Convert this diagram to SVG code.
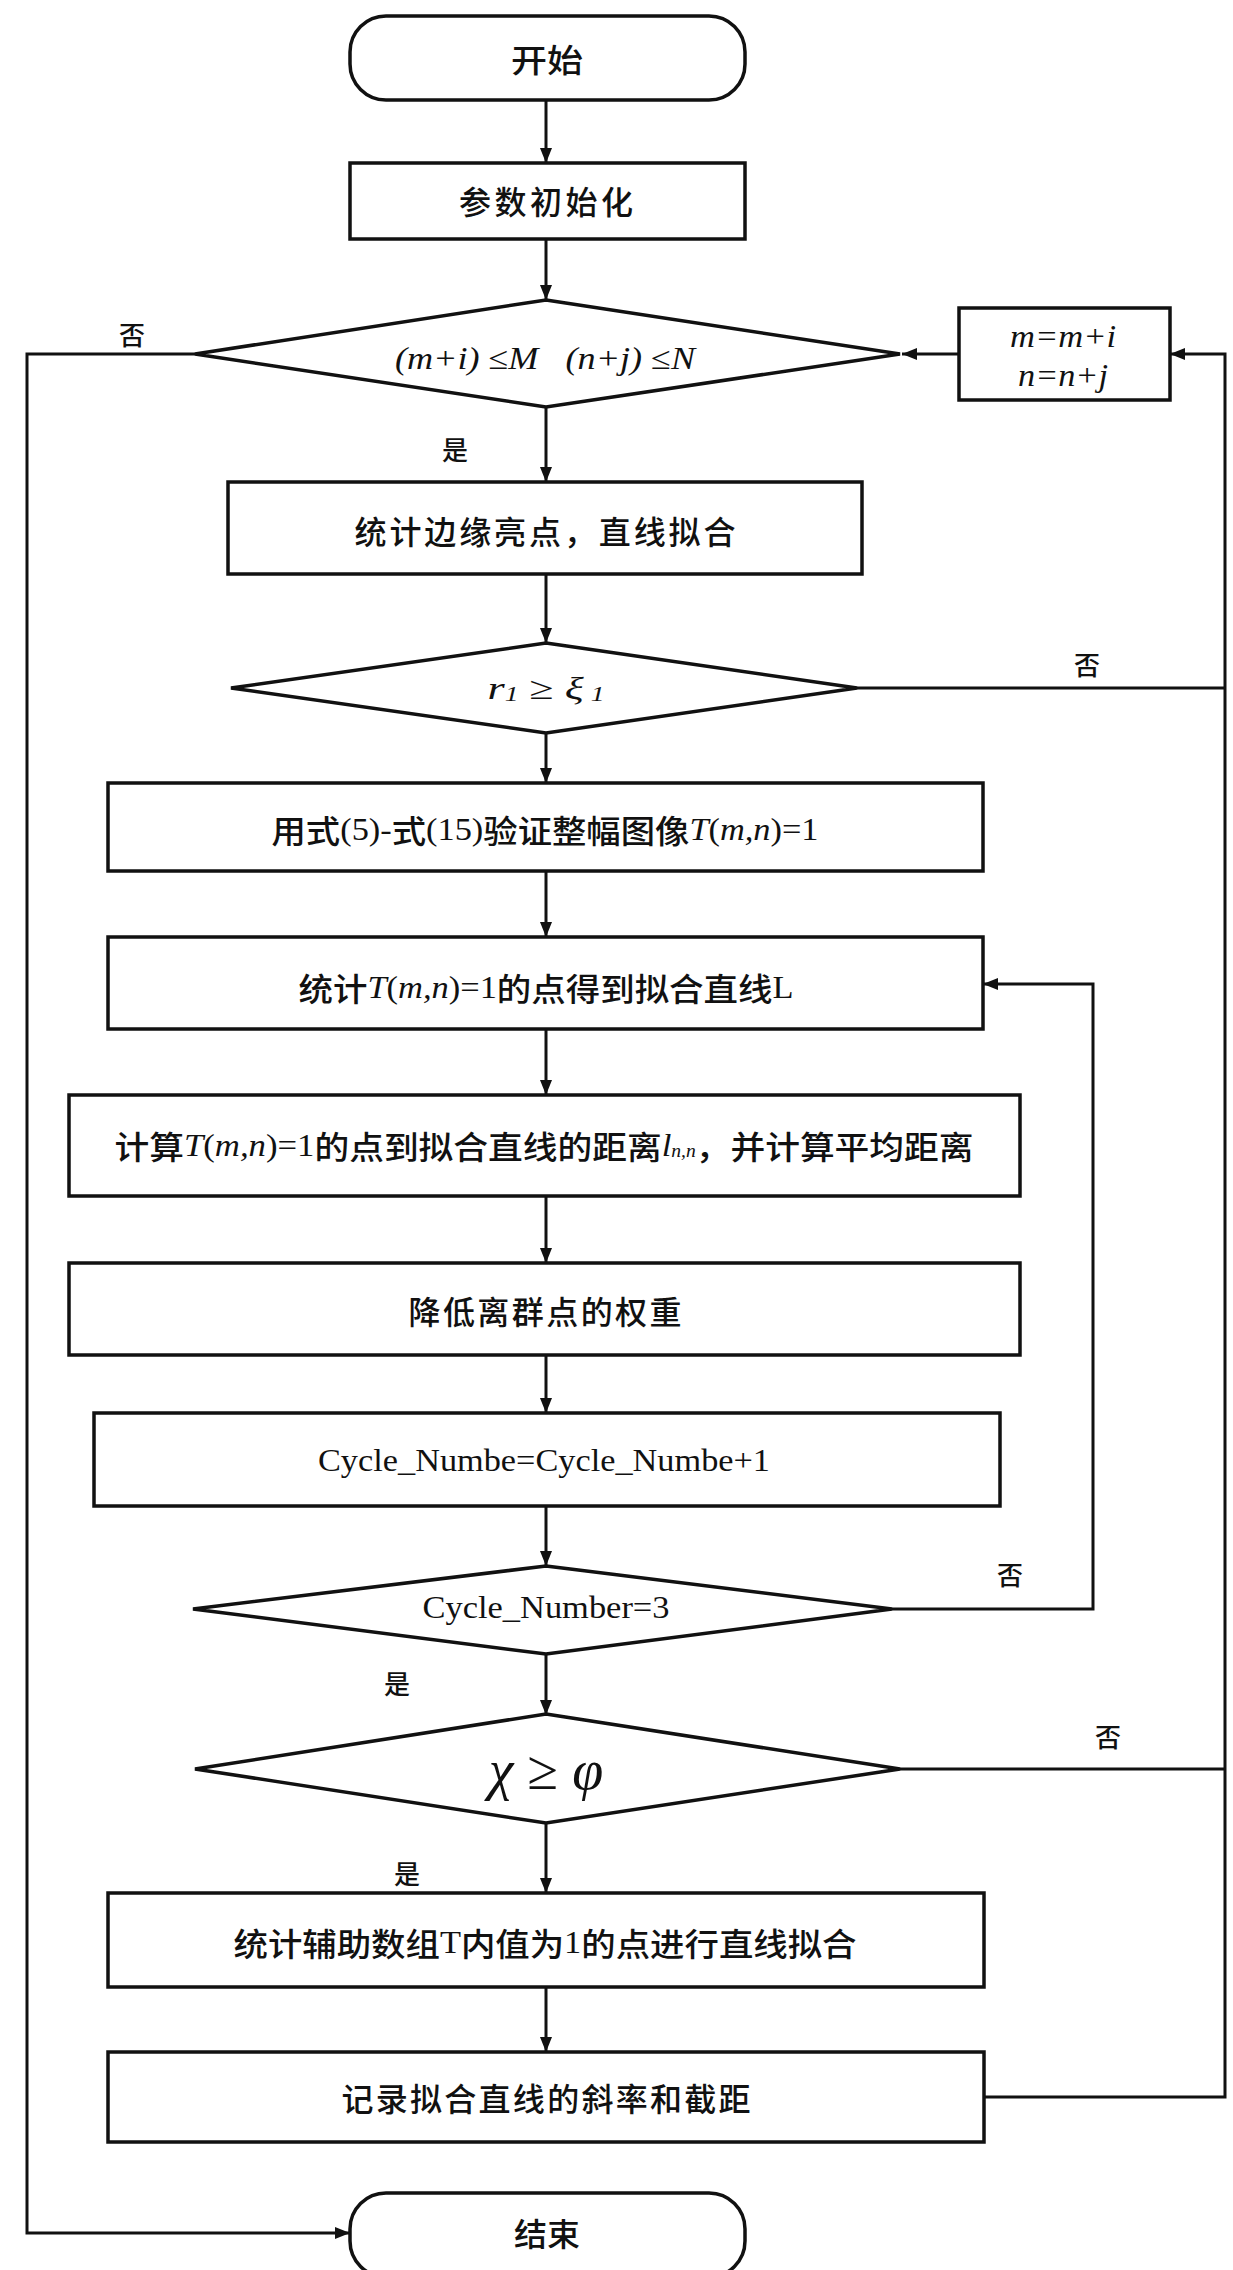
<svg xmlns="http://www.w3.org/2000/svg" width="1233" height="2270" viewBox="0 0 1233 2270">
<style>
.shape{fill:#fff;stroke:#111;stroke-width:3.5}
.conn{fill:none;stroke:#111;stroke-width:3}
.cjk{font-family:"Noto Sans CJK SC","Liberation Serif",sans-serif;font-size:32px;font-weight:500;fill:#111;text-anchor:middle;dominant-baseline:central}
.lab{font-family:"Noto Sans CJK SC",sans-serif;font-size:26px;font-weight:500;fill:#111;text-anchor:middle;dominant-baseline:central}
.lat{font-family:"Liberation Serif",serif}
.it{font-family:"Liberation Serif",serif;font-style:italic}
.mix{font-family:"Liberation Serif","Noto Sans CJK SC",serif;font-size:32px;fill:#111;text-anchor:middle;dominant-baseline:central}
.big{font-size:56px}
</style>
<defs>
<marker id="arr" markerUnits="userSpaceOnUse" markerWidth="16" markerHeight="12" refX="15" refY="6" orient="auto">
<path d="M0,0 L15,6 L0,12 z" fill="#111"/>
</marker>
</defs>
<rect width="1233" height="2270" fill="#fff"/>

<g id="connectors">
<line class="conn" x1="546" y1="100" x2="546" y2="163" marker-end="url(#arr)"/>
<line class="conn" x1="546" y1="239" x2="546" y2="300" marker-end="url(#arr)"/>
<line class="conn" x1="546" y1="407" x2="546" y2="482" marker-end="url(#arr)"/>
<line class="conn" x1="546" y1="574" x2="546" y2="643" marker-end="url(#arr)"/>
<line class="conn" x1="546" y1="733" x2="546" y2="783" marker-end="url(#arr)"/>
<line class="conn" x1="546" y1="871" x2="546" y2="937" marker-end="url(#arr)"/>
<line class="conn" x1="546" y1="1029" x2="546" y2="1095" marker-end="url(#arr)"/>
<line class="conn" x1="546" y1="1196" x2="546" y2="1263" marker-end="url(#arr)"/>
<line class="conn" x1="546" y1="1355" x2="546" y2="1413" marker-end="url(#arr)"/>
<line class="conn" x1="546" y1="1506" x2="546" y2="1566" marker-end="url(#arr)"/>
<line class="conn" x1="546" y1="1654" x2="546" y2="1715" marker-end="url(#arr)"/>
<line class="conn" x1="546" y1="1823" x2="546" y2="1893" marker-end="url(#arr)"/>
<line class="conn" x1="546" y1="1987" x2="546" y2="2052" marker-end="url(#arr)"/>
<polyline class="conn" points="195,354 27,354 27,2233 350,2233" marker-end="url(#arr)"/>
<line class="conn" x1="959" y1="354" x2="902" y2="354" marker-end="url(#arr)"/>
<polyline class="conn" points="984,2097 1225,2097 1225,354 1170,354" marker-end="url(#arr)"/>
<line class="conn" x1="857" y1="688" x2="1225" y2="688"/>
<line class="conn" x1="900" y1="1769" x2="1225" y2="1769"/>
<polyline class="conn" points="892,1609 1093,1609 1093,984 983,984" marker-end="url(#arr)"/>
<text class="lab" x="132" y="333">否</text>
<text class="lab" x="455" y="448">是</text>
<text class="lab" x="1087" y="663">否</text>
<text class="lab" x="1010" y="1573">否</text>
<text class="lab" x="397" y="1682">是</text>
<text class="lab" x="1108" y="1735">否</text>
<text class="lab" x="407" y="1872">是</text>
</g>

<g id="start">
<rect class="shape" x="350" y="16" width="395" height="84" rx="36" ry="36"/>
<text class="cjk" x="547" y="58" textLength="72" lengthAdjust="spacingAndGlyphs">开始</text>
</g>

<g id="init">
<rect class="shape" x="350" y="163" width="395" height="76"/>
<text class="cjk" x="546" y="200" textLength="174" lengthAdjust="spacing">参数初始化</text>
</g>

<g id="cond1">
<polygon class="shape" points="546,300 900,354 546,407 195,354"/>
<text class="mix" x="545" y="358" textLength="300" lengthAdjust="spacingAndGlyphs"><tspan class="it">(m+i)</tspan>&#160;≤<tspan class="it">M</tspan>&#160;&#160;&#160;<tspan class="it">(n+j)</tspan>&#160;≤<tspan class="it">N</tspan></text>
</g>

<g id="update">
<rect class="shape" x="959" y="308" width="211" height="92"/>
<text class="mix it" x="1063" y="336" textLength="106" lengthAdjust="spacingAndGlyphs">m=m+i</text>
<text class="mix it" x="1063" y="375" textLength="90" lengthAdjust="spacingAndGlyphs">n=n+j</text>
</g>

<g id="fit1">
<rect class="shape" x="228" y="482" width="634" height="92"/>
<text class="cjk" x="545" y="530" textLength="381" lengthAdjust="spacing">统计边缘亮点，直线拟合</text>
</g>

<g id="cond2">
<polygon class="shape" points="546,643 857,688 546,733 231,688"/>
<text class="mix" x="546" y="688" textLength="117" lengthAdjust="spacingAndGlyphs"><tspan class="it">r</tspan><tspan class="it" font-size="20" dy="6">1</tspan><tspan dy="-6">&#160;≥&#160;</tspan><tspan class="it">ξ</tspan><tspan class="it" font-size="20" dy="6">&#160;1</tspan></text>
</g>

<g id="verify">
<rect class="shape" x="108" y="783" width="875" height="88"/>
<text class="cjk" x="545" y="829" textLength="547" lengthAdjust="spacingAndGlyphs">用式<tspan class="lat">(5)-</tspan>式<tspan class="lat">(15)</tspan>验证整幅图像<tspan class="it">T</tspan><tspan class="lat">(</tspan><tspan class="it">m,n</tspan><tspan class="lat">)=1</tspan></text>
</g>

<g id="fitL">
<rect class="shape" x="108" y="937" width="875" height="92"/>
<text class="cjk" x="546" y="987" textLength="495" lengthAdjust="spacingAndGlyphs">统计<tspan class="it">T</tspan><tspan class="lat">(</tspan><tspan class="it">m,n</tspan><tspan class="lat">)=1</tspan>的点得到拟合直线<tspan class="lat">L</tspan></text>
</g>

<g id="dist">
<rect class="shape" x="69" y="1095" width="951" height="101"/>
<text class="cjk" x="544" y="1145" textLength="859" lengthAdjust="spacingAndGlyphs">计算<tspan class="it">T</tspan><tspan class="lat">(</tspan><tspan class="it">m,n</tspan><tspan class="lat">)=1</tspan>的点到拟合直线的距离<tspan class="it">l</tspan><tspan class="it" font-size="18" dy="6">n,n</tspan><tspan dy="-6">，</tspan>并计算平均距离</text>
</g>

<g id="weight">
<rect class="shape" x="69" y="1263" width="951" height="92"/>
<text class="cjk" x="545" y="1310" textLength="273" lengthAdjust="spacing">降低离群点的权重</text>
</g>

<g id="count">
<rect class="shape" x="94" y="1413" width="906" height="93"/>
<text class="mix" x="544" y="1460" textLength="452" lengthAdjust="spacingAndGlyphs">Cycle_Numbe=Cycle_Numbe+1</text>
</g>

<g id="cond3">
<polygon class="shape" points="546,1566 892,1609 546,1654 193,1609"/>
<text class="mix" x="546" y="1607" textLength="247" lengthAdjust="spacingAndGlyphs">Cycle_Number=3</text>
</g>

<g id="cond4">
<polygon class="shape" points="546,1714 900,1769 546,1823 195,1769"/>
<text class="mix big" x="546" y="1770"><tspan class="it">χ</tspan>&#160;≥&#160;<tspan class="it">φ</tspan></text>
</g>

<g id="fitT">
<rect class="shape" x="108" y="1893" width="876" height="94"/>
<text class="cjk" x="545" y="1942" textLength="623" lengthAdjust="spacingAndGlyphs">统计辅助数组<tspan class="lat">T</tspan>内值为<tspan class="lat">1</tspan>的点进行直线拟合</text>
</g>

<g id="record">
<rect class="shape" x="108" y="2052" width="876" height="90"/>
<text class="cjk" x="546" y="2097" textLength="409" lengthAdjust="spacing">记录拟合直线的斜率和截距</text>
</g>

<g id="end">
<rect class="shape" x="350" y="2193" width="395" height="84" rx="36" ry="36"/>
<text class="cjk" x="547" y="2232" textLength="66" lengthAdjust="spacingAndGlyphs">结束</text>
</g>
</svg>
